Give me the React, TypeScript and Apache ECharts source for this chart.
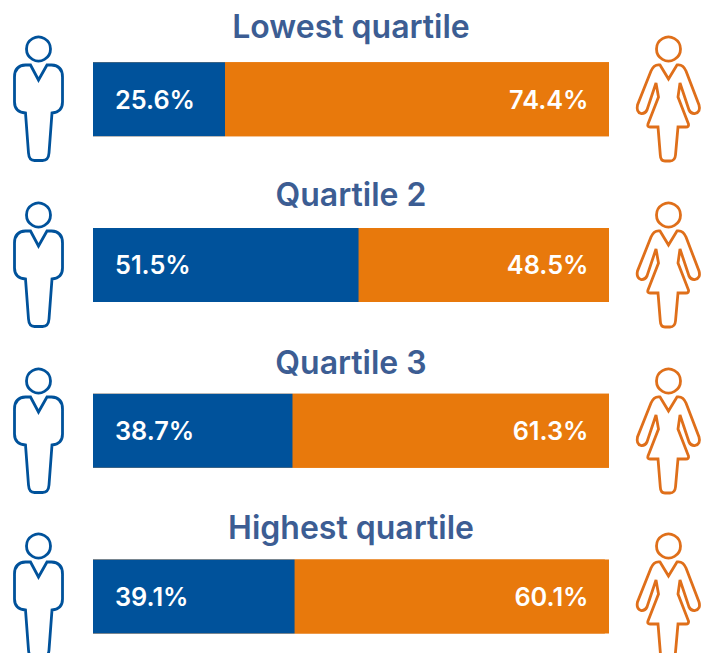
import React, { useEffect, useRef } from "react";
import * as echarts from "echarts";

const categories = ["Lowest quartile", "Quartile 2", "Quartile 3", "Highest quartile"];
const menValues = [25.6, 51.5, 38.7, 39.1];
const womenValues = [74.4, 48.5, 61.3, 60.1];
const titleTops = [10, 178, 346, 511];
const iconOffsets = [0, 166, 332, 497];

const BLUE = "#00529B";
const ORANGE = "#E8790C";
const WOMAN = "#DF6F1A";
const TITLE = "#3C5D93";

const manBody =
  "M30.500 65 L38.500 80 L47 65 L51.500 65 Q62.500 65.500 62.500 77 L62.500 102 Q62.500 112 52 113 L49 153 Q48.500 160.500 42.500 160.500 L34.500 160.500 Q29 160.500 28.500 153 L25.500 113 Q14.500 112 14.500 102 L14.500 77 Q14.500 65.500 25.500 65 Z";
const womanBody =
  "M660 65 L668.500 79 L677 65 Q683 64 686 71 L699 105 Q701 112 695 113.500 Q691 114 689 110 L680 83 L678 97 L688.500 124 Q689 127 686 127 L678 127 L675.500 155 Q675 161 670 161 L665 161 Q660.500 161 660.300 155 L658 127 L650 127 Q647 127 648 124 L658.500 97 L656 83 L647 110 Q645 114 641 113.500 Q636 112 637.500 105 L651 71 Q654 64 660 65 Z";

echarts.graphic.registerShape("manBody", echarts.graphic.extendPath(manBody, {}));
echarts.graphic.registerShape("womanBody", echarts.graphic.extendPath(womanBody, {}));

export default function App() {
  const ref = useRef<HTMLDivElement>(null);
  useEffect(() => {
    const chart = echarts.init(ref.current!, undefined, { renderer: "svg" });
    const pxPerUnit = 516 / 100;
    const font = "Inter, 'Noto Sans', sans-serif";
    const stroke = 2.8;
    const icons = iconOffsets.flatMap((y) => [
      { type: "circle", x: 0, y, shape: { cx: 38.5, cy: 49, r: 12 }, style: { fill: "none", stroke: BLUE, lineWidth: stroke } },
      { type: "manBody", x: 0, y, style: { fill: "none", stroke: BLUE, lineWidth: stroke } },
      { type: "circle", x: 0, y, shape: { cx: 668.5, cy: 49, r: 12 }, style: { fill: "none", stroke: WOMAN, lineWidth: stroke } },
      { type: "womanBody", x: 0, y, style: { fill: "none", stroke: WOMAN, lineWidth: stroke } },
    ]);
    chart.setOption({
      animation: false,
      title: categories.map((text, i) => ({
        text,
        left: 351,
        top: titleTops[i],
        textAlign: "center",
        padding: 0,
        textStyle: { fontFamily: font, fontSize: 32, fontWeight: 600, color: TITLE },
      })),
      grid: { left: 93, width: 516, top: 16.3, height: 663, containLabel: false, outerBoundsMode: "none" },
      xAxis: { type: "value", min: 0, max: 100, show: false },
      yAxis: { type: "category", inverse: true, data: categories, show: false },
      graphic: icons,
      series: [
        {
          name: "Men",
          type: "bar",
          stack: "share",
          barWidth: 74,
          data: menValues,
          showBackground: true,
          backgroundStyle: { color: ORANGE },
          itemStyle: { color: BLUE },
          label: {
            show: true,
            position: "insideLeft",
            distance: 22,
            formatter: (p: any) => `${p.value.toFixed(1)}%`,
            color: "#fff",
            fontFamily: font,
            fontSize: 25.3,
            fontWeight: 600,
          },
        },
        {
          name: "Women",
          type: "bar",
          stack: "share",
          barWidth: 74,
          itemStyle: { color: ORANGE },
          data: womenValues.map((value, i) => ({
            value,
            label: { offset: [(100 - value - menValues[i]) * pxPerUnit, 0] },
          })),
          label: {
            show: true,
            position: "insideRight",
            distance: 20.5,
            formatter: (p: any) => `${p.value.toFixed(1)}%`,
            color: "#fff",
            fontFamily: font,
            fontSize: 25.3,
            fontWeight: 600,
          },
        },
      ],
    });
    return () => chart.dispose();
  }, []);
  return <div ref={ref} style={{ position: "fixed", left: 0, top: 0, width: 710, height: 653, background: "#fff" }} />;
}
